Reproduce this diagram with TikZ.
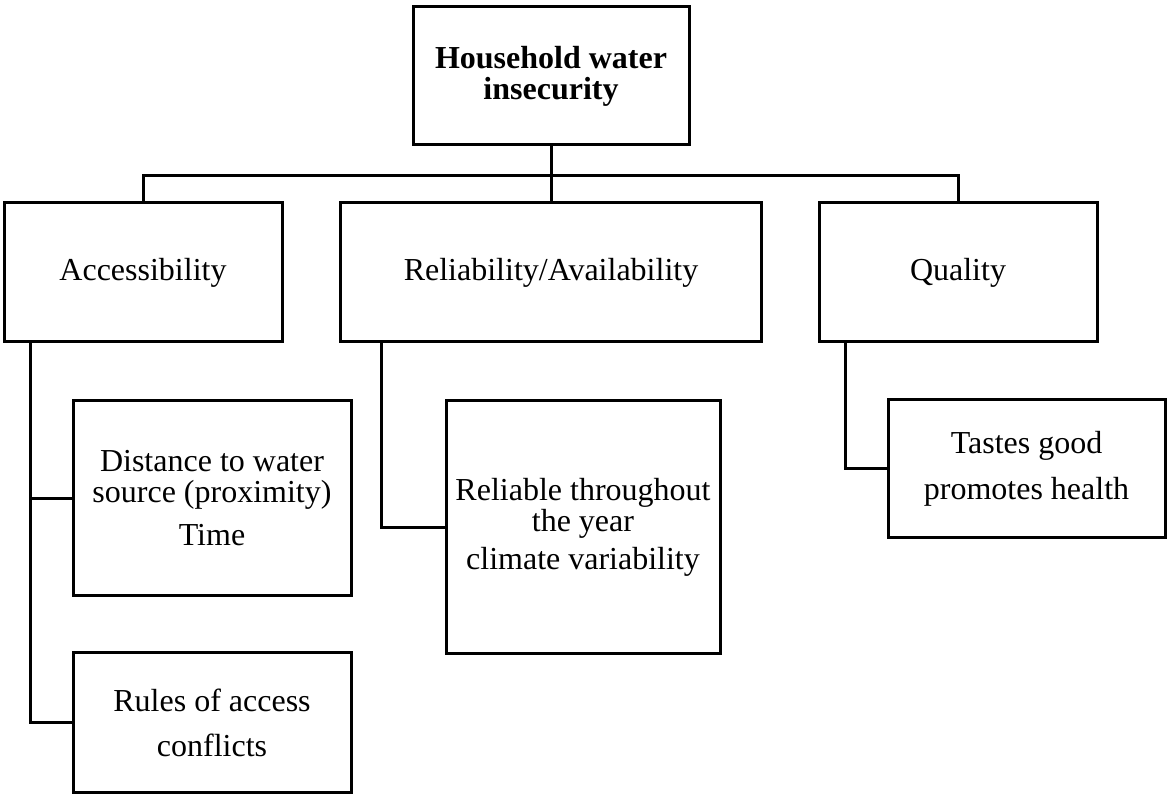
\documentclass[tikz,border=0pt]{standalone}
\usepackage{fontspec}
\setmainfont{Liberation Serif}
\usetikzlibrary{calc,positioning}
\tikzset{
  box/.style={draw,line width=1.5pt,align=center,inner sep=0pt,
    font=\fontsize{16}{15.5}\selectfont},
  link/.style={line width=1.5pt}
}

\begin{document}
\begin{tikzpicture}[x=0.5pt,y=-0.5pt]
  \useasboundingbox (0,0) rectangle (1168,795);
  % root and the three dimensions
  \node[box,minimum width=138pt,minimum height=69pt,font=\fontsize{16}{15.5}\selectfont\bfseries]
    (root) at (551,76) {Household water\\insecurity};
  \node[box,minimum width=139pt,minimum height=69.5pt] (acc) at (143,272.5) {Accessibility};
  \node[box,minimum width=210.5pt,minimum height=69.5pt] (rel) at (551,272.5) {Reliability/Availability};
  \node[box,minimum width=139pt,minimum height=69.5pt] (qual) at (958,272.5) {Quality};
  % sub items
  \node[box,minimum width=139pt,minimum height=97.5pt] (dist) at (212,498.5)
    {Distance to water\\source (proximity)\\[6pt]Time};
  \node[box,minimum width=139pt,minimum height=70pt] (rules) at (212,723)
    {Rules of access\\[7pt]conflicts};
  \node[box,minimum width=137pt,minimum height=126.5pt] (yearly) at (583,527.5)
    {Reliable throughout\\the year\\[3.5pt]climate variability};
  \node[box,minimum width=138.5pt,minimum height=69pt] (taste) at (1026.5,469)
    {Tastes good\\[7.5pt]promotes health};
  % tree connectors
  \coordinate (bus) at ($(root.south)+(0,29)$);
  \draw[link] (root.south) -- (bus);
  \draw[link] (acc.north) |- (bus) -| (qual.north);
  \draw[link] (rel.north) -- (bus);
  \coordinate (accstem) at ($(acc.south west)+(28,0)$);
  \coordinate (relstem) at ($(rel.south west)+(42,0)$);
  \coordinate (qualstem) at ($(qual.south west)+(28,0)$);
  \draw[link] (accstem) |- (dist.west);
  \draw[link] (accstem) |- (rules.west);
  \draw[link] (relstem) |- (yearly.west);
  \draw[link] (qualstem) |- (taste.west);
\end{tikzpicture}
\end{document}
